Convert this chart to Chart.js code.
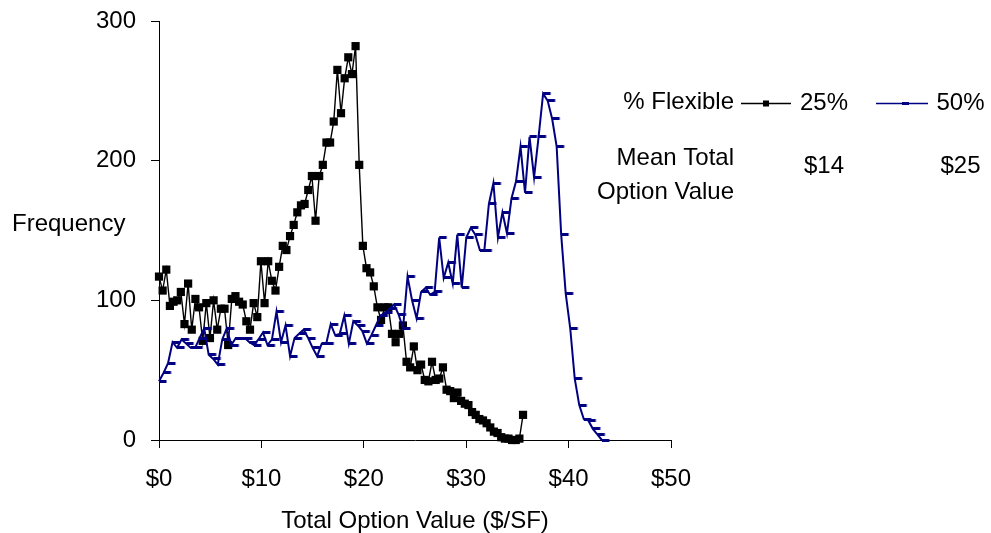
<!DOCTYPE html>
<html>
<head>
<meta charset="utf-8">
<title>Total Option Value distribution</title>
<script src="https://cdn.jsdelivr.net/npm/chart.js@4.4.1/dist/chart.umd.min.js"></script>
<style>
  html, body { margin: 0; padding: 0; background: #ffffff; overflow: hidden; }
  #wrap { position: relative; width: 991px; height: 533px; }
  canvas { display: block; }
</style>
</head>
<body>
<div id="wrap"><canvas id="chart" width="991" height="533"></canvas></div>
<script>
// Histogram bins: first bin starts at $0, fixed width in $/SF
const binStart25 = 0;
const binWidth25 = 0.3555;
const binStart50 = 0;
const binWidth50 = 0.4413;

// Frequency per bin, 25% flexible
const freq25 = [
  117, 107, 122, 96, 99, 100, 106, 83, 112, 79,
  101, 95, 71, 98, 73, 100, 79, 94, 94, 68,
  101, 103, 99, 97, 85, 79, 98, 88, 128, 98,
  128, 114, 107, 124, 139, 136, 146, 154, 163, 168,
  169, 179, 189, 157, 189, 197, 213, 213, 228, 265,
  234, 259, 274, 262, 282, 197, 139, 123, 120, 110,
  95, 86, 95, 95, 76, 70, 76, 82, 56, 52,
  67, 50, 54, 43, 42, 56, 43, 44, 52, 36,
  35, 30, 34, 28, 26, 25, 20, 18, 15, 14,
  12, 9, 6, 5, 2, 1, 1, 0, 0, 1,
  18
];

// Frequency per bin, 50% flexible
const freq50 = [
  42, 48, 55, 70, 66, 72, 69, 66, 66, 73,
  80, 61, 58, 54, 72, 80, 68, 73, 73, 73,
  70, 68, 72, 77, 68, 72, 92, 70, 82, 60,
  73, 76, 79, 73, 66, 60, 69, 69, 83, 75,
  76, 89, 69, 85, 82, 78, 69, 75, 82, 89,
  91, 94, 97, 90, 80, 117, 100, 87, 106, 109,
  104, 106, 145, 116, 127, 112, 147, 109, 145, 152,
  147, 136, 136, 169, 184, 145, 163, 148, 173, 185,
  210, 177, 217, 188, 217, 248, 243, 230, 210, 147,
  105, 80, 44, 25, 15, 14, 8, 4, 0
];

const xTicks = [0, 10, 20, 30, 40, 50];
const yTicks = [0, 100, 200, 300];
const seriesLabels = ['25%', '50%'];
const meanLabels = ['$14', '$25'];

const FONT_FAMILY = '"Liberation Sans", Arial, Helvetica, sans-serif';
const FONT_SIZE = 24;
const BLACK = '#000000';
const NAVY = '#000080';

function toPoints(start, width, counts) {
  return counts.map((c, i) => ({ x: start + i * width, y: c }));
}

// Short horizontal dash marker that runs from the point to the right
function makeDash(len, thick, color) {
  const c = document.createElement('canvas');
  c.width = Math.ceil(len) * 2 + 2;
  c.height = thick;
  const g = c.getContext('2d');
  g.fillStyle = color;
  g.fillRect(c.width / 2, 0, len, thick);
  return c;
}
const dashMarker = makeDash(7.5, 3, NAVY);

const labelsPlugin = {
  id: 'chartText',
  afterDraw(chart) {
    const ctx = chart.ctx;
    const area = chart.chartArea;
    ctx.save();
    ctx.fillStyle = BLACK;
    ctx.font = FONT_SIZE + 'px ' + FONT_FAMILY;
    ctx.textBaseline = 'middle';

    // axis titles
    ctx.textAlign = 'center';
    ctx.fillText('Total Option Value ($/SF)', (area.left + area.right) / 2, 521);
    ctx.textAlign = 'left';
    ctx.fillText('Frequency', 12, 224);

    // legend row: % Flexible
    ctx.textAlign = 'right';
    ctx.fillText('% Flexible', 734, 102);

    // 25% sample: line with square marker
    ctx.strokeStyle = BLACK;
    ctx.lineWidth = 1.3;
    ctx.beginPath();
    ctx.moveTo(741, 103.5);
    ctx.lineTo(791, 103.5);
    ctx.stroke();
    ctx.fillRect(763, 100.5, 6, 6);
    ctx.textAlign = 'center';
    ctx.fillText(seriesLabels[0], 824, 103);

    // 50% sample: line with dash marker
    ctx.strokeStyle = NAVY;
    ctx.lineWidth = 1.3;
    ctx.beginPath();
    ctx.moveTo(876, 103.5);
    ctx.lineTo(928, 103.5);
    ctx.stroke();
    ctx.fillStyle = NAVY;
    ctx.fillRect(902, 102, 7, 3);
    ctx.fillStyle = BLACK;
    ctx.fillText(seriesLabels[1], 960.5, 103);

    // mean total option value row
    ctx.textAlign = 'right';
    ctx.fillText('Mean Total', 734, 158);
    ctx.fillText('Option Value', 734, 192);
    ctx.textAlign = 'center';
    ctx.fillText(meanLabels[0], 824, 166);
    ctx.fillText(meanLabels[1], 960.5, 166);
    ctx.restore();
  }
};

const tickFont = { family: FONT_FAMILY, size: FONT_SIZE };

new Chart(document.getElementById('chart'), {
  type: 'line',
  data: {
    datasets: [
      {
        label: seriesLabels[0],
        data: toPoints(binStart25, binWidth25, freq25),
        borderColor: BLACK,
        backgroundColor: BLACK,
        borderWidth: 1.4,
        pointStyle: 'rect',
        pointRadius: 5.8,
        pointBorderWidth: 0,
        pointBackgroundColor: BLACK,
        tension: 0,
        clip: false,
        order: 2
      },
      {
        label: seriesLabels[1],
        data: toPoints(binStart50, binWidth50, freq50),
        borderColor: NAVY,
        backgroundColor: NAVY,
        borderWidth: 2,
        pointStyle: dashMarker,
        pointRadius: 4,
        tension: 0,
        clip: false,
        order: 1
      }
    ]
  },
  options: {
    responsive: false,
    devicePixelRatio: 1,
    animation: false,
    events: [],
    layout: { padding: { left: 0, top: 21, right: 320, bottom: 0 } },
    plugins: {
      legend: { display: false },
      title: { display: false },
      tooltip: { enabled: false }
    },
    scales: {
      x: {
        type: 'linear',
        min: 0,
        max: 50,
        afterBuildTicks: s => { s.ticks = xTicks.map(v => ({ value: v })); },
        afterFit: s => { s.height = 93; s.paddingLeft = 0; s.paddingRight = 0; },
        ticks: {
          font: tickFont,
          color: BLACK,
          padding: 17,
          maxRotation: 0,
          autoSkip: false,
          callback: v => '$' + v
        },
        grid: { drawOnChartArea: false, drawTicks: true, tickLength: 8, color: BLACK, lineWidth: 1 },
        border: { display: true, color: BLACK, width: 1 }
      },
      y: {
        type: 'linear',
        min: 0,
        max: 300,
        afterBuildTicks: s => { s.ticks = yTicks.map(v => ({ value: v })); },
        afterFit: s => { s.width = 159; s.paddingTop = 0; s.paddingBottom = 0; },
        ticks: {
          font: tickFont,
          color: BLACK,
          padding: 15,
          autoSkip: false
        },
        grid: { drawOnChartArea: false, drawTicks: true, tickLength: 8, color: BLACK, lineWidth: 1 },
        border: { display: true, color: BLACK, width: 1 }
      }
    }
  },
  plugins: [labelsPlugin]
});
</script>
</body>
</html>
